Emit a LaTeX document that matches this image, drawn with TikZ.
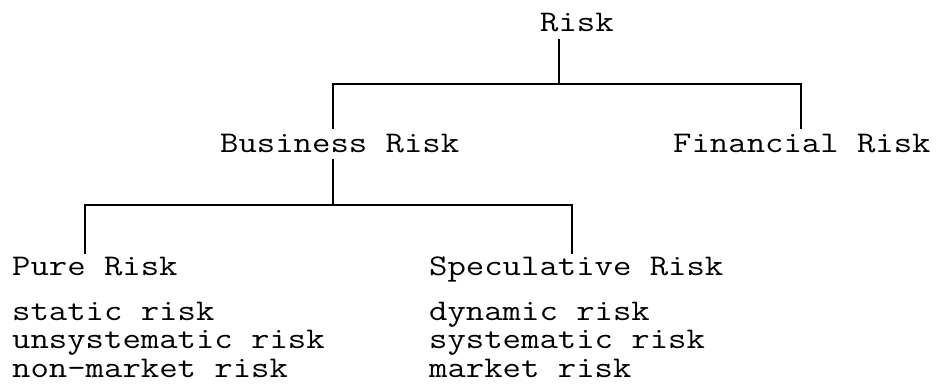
\documentclass[tikz,border=0pt]{standalone}
\usepackage{fontspec}
\newfontfamily\typewr[FakeStretch=1.19]{Latin Modern Mono}
\usetikzlibrary{positioning}

\begin{document}
\begin{tikzpicture}[x=1pt, y=-1pt,
  lbl/.style={inner sep=0pt, anchor=base west, font=\typewr\fontsize{30}{28.5}\selectfont},
  branch/.style={line width=1.4pt, line cap=rect}]
\useasboundingbox (0,0) rectangle (949,386);
% headings
\node[lbl] (risk) at (540,31) {Risk};
\node[lbl] (bus) at (220,152) {Business Risk};
\node[lbl] (fin) at (673,152) {Financial Risk};
\node[lbl] (pure) at (12,275) {Pure Risk};
\node[lbl] (spec) at (429,275) {Speculative Risk};
% kinds of risk
\node[lbl] (stat) at (12,320) {static risk};
\node[lbl] (unsys) at (12,348) {unsystematic risk};
\node[lbl] (nonmkt) at (12,377) {non-market risk};
\node[lbl] (dyn) at (429,320) {dynamic risk};
\node[lbl] (sys) at (429,348) {systematic risk};
\node[lbl] (mkt) at (429,377) {market risk};
% branch points
\coordinate (top) at (559,84);
\coordinate (topl) at (333,84);
\coordinate (topr) at (801,84);
\coordinate (low) at (333,205);
\coordinate (lowl) at (85,205);
\coordinate (lowr) at (572,205);
\draw[branch] (top |- 0,40) -- (top);
\draw[branch] (topl |- 0,128) -- (topl) -- (topr) -- (topr |- 0,128);
\draw[branch] (low |- 0,160) -- (low);
\draw[branch] (lowl |- 0,253) -- (lowl) -- (lowr) -- (lowr |- 0,253);
\end{tikzpicture}
\end{document}
